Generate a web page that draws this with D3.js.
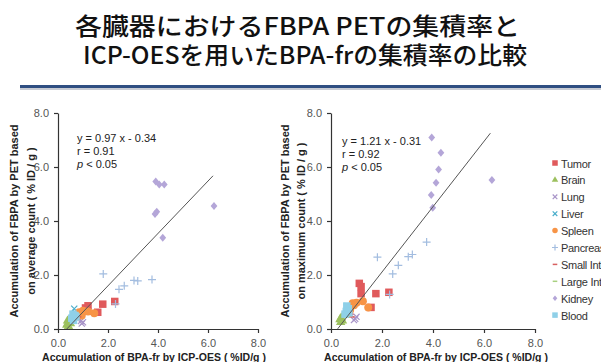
<!DOCTYPE html>
<html><head><meta charset="utf-8">
<script src="https://cdn.jsdelivr.net/npm/d3@7"></script>
<style>body{margin:0;background:#fff}svg{display:block}</style>
</head><body>
<script>
// ---------- data ----------
const titleLines = ["各臓器におけるFBPA PETの集積率と", "ICP-OESを用いたBPA-frの集積率の比較"];
const organs = ["Tumor","Brain","Lung","Liver","Spleen","Pancreas","Small Intestine","Large Intestine","Kidney","Blood"];
const xTicks = [0, 2, 4, 6, 8];
const yTicks = [0, 2, 4, 6, 8];

// Left panel: PET average count vs ICP-OES
const avgTumor    = [[1.10,0.78],[1.20,0.86],[1.18,0.66],[1.79,0.92],[2.27,1.02],[1.59,0.62]];
const avgBrain    = [[0.35,0.15],[0.40,0.22],[0.45,0.28],[0.38,0.30],[0.50,0.20],[0.42,0.10]];
const avgLung     = [[0.95,0.20],[1.00,0.25],[0.92,0.30]];
const avgLiver    = [[0.65,0.75],[0.70,0.60]];
const avgSpleen   = [[0.85,0.62],[1.00,0.68],[1.20,0.65],[1.45,0.58],[0.95,0.50],[0.78,0.52]];
const avgPancreas = [[1.81,2.04],[2.44,1.47],[2.65,1.60],[3.04,1.80],[3.19,1.78],[3.76,1.83],[2.30,0.93]];
const avgSmall    = [[0.80,0.45],[0.75,0.35]];
const avgLarge    = [[0.60,0.30],[0.70,0.42]];
const avgKidney   = [[3.91,5.46],[4.05,5.35],[4.25,5.35],[6.24,4.56],[3.95,4.34],[3.88,4.26],[4.19,3.38]];
const avgBlood    = [[0.60,0.55],[0.68,0.50],[0.55,0.40],[0.62,0.32],[0.72,0.45]];
const avgFit = {slope: 0.97, intercept: -0.34, x0: 0.35, x1: 6.2};
const avgStats = ["y = 0.97 x - 0.34", "r = 0.91", "< 0.05"];

// Right panel: PET maximum count vs ICP-OES
const maxTumor    = [[1.11,1.69],[1.18,1.57],[1.18,1.31],[1.76,1.31],[2.27,1.36],[1.57,0.80]];
const maxBrain    = [[0.35,0.35],[0.40,0.42],[0.45,0.30],[0.38,0.25]];
const maxLung     = [[0.95,0.38],[0.90,0.33],[1.00,0.45]];
const maxLiver    = [[0.65,0.85],[0.72,0.70]];
const maxSpleen   = [[0.85,0.95],[1.00,0.97],[1.25,1.03],[1.46,0.80],[0.90,0.88],[0.75,0.70]];
const maxPancreas = [[1.82,2.66],[2.42,2.04],[2.64,2.36],[3.03,2.68],[3.19,2.76],[3.75,3.22],[2.30,1.28]];
const maxSmall    = [[0.75,0.55],[0.80,0.45]];
const maxLarge    = [[0.60,0.45],[0.70,0.50]];
const maxKidney   = [[3.95,7.09],[4.31,6.53],[4.22,5.91],[4.12,5.42],[3.93,4.96],[3.99,4.49],[6.31,5.52]];
const maxBlood    = [[0.62,0.85],[0.68,0.75],[0.60,0.65],[0.55,0.55],[0.70,0.60]];
const maxFit = {slope: 1.21, intercept: -0.31, x0: 0.26, x1: 6.25};
const maxStats = ["y = 1.21 x - 0.31", "r = 0.92", "< 0.05"];

const avgSeries = [avgTumor,avgBrain,avgLung,avgLiver,avgSpleen,avgPancreas,avgSmall,avgLarge,avgKidney,avgBlood];
const maxSeries = [maxTumor,maxBrain,maxLung,maxLiver,maxSpleen,maxPancreas,maxSmall,maxLarge,maxKidney,maxBlood];

// ---------- styles ----------
const legendLabels = ["Tumor","Brain","Lung","Liver","Spleen","Pancreas","Small Intestine","Large Intestine","Kidney","Blood"];
const colors = ["#e05a5c","#9cc05e","#a894c8","#4aaecb","#f79446","#a3bde0","#d86060","#a8d080","#b4a6d8","#8fd0e8"];
const shapes = ["square","triangle","x","x","circle","plus","dash","dash","diamond","square"];

const W = 601, H = 362;
const svg = d3.select("body").append("svg").attr("width", W).attr("height", H);
const FONT = "'Liberation Sans', Arial, sans-serif";

// title (one text element, two lines)
const tl = [{x0:75, x1:520, y:35}, {x0:83, x1:527, y:64}];
const title = svg.append("text")
  .attr("font-family","'Noto Sans CJK JP', sans-serif").attr("font-weight",500)
  .attr("font-size",24).attr("fill","#111");
titleLines.forEach((t,i)=>{
  title.append("tspan").attr("x", tl[i].x0).attr("y", tl[i].y)
    .attr("textLength", tl[i].x1 - tl[i].x0).attr("lengthAdjust","spacingAndGlyphs")
    .text(t);
});
// separator
svg.append("rect").attr("x",20).attr("y",88).attr("width",W-20).attr("height",2).attr("fill","#c8ccd4");
svg.append("rect").attr("x",20).attr("y",85).attr("width",W-20).attr("height",3).attr("fill","#2f4f82");

function marker(g, shape, color, cx, cy, s) {
  if (shape === "square") {
    g.append("rect").attr("x",cx-s/2).attr("y",cy-s/2).attr("width",s).attr("height",s).attr("fill",color);
  } else if (shape === "circle") {
    g.append("circle").attr("cx",cx).attr("cy",cy).attr("r",s/2).attr("fill",color);
  } else if (shape === "triangle") {
    g.append("path").attr("d",d3.symbol(d3.symbolTriangle, s*s*0.6)()).attr("transform",`translate(${cx},${cy})`).attr("fill",color);
  } else if (shape === "diamond") {
    const h = s/2;
    g.append("path").attr("d",`M${cx},${cy-h}L${cx+h*0.85},${cy}L${cx},${cy+h}L${cx-h*0.85},${cy}Z`).attr("fill",color);
  } else if (shape === "x") {
    const h = s/2.6;
    g.append("path").attr("d",`M${cx-h},${cy-h}L${cx+h},${cy+h}M${cx-h},${cy+h}L${cx+h},${cy-h}`).attr("stroke",color).attr("stroke-width",1.2);
  } else if (shape === "plus") {
    const h = s/2;
    g.append("path").attr("d",`M${cx-h},${cy}L${cx+h},${cy}M${cx},${cy-h}L${cx},${cy+h}`).attr("stroke",color).attr("stroke-width",1.2);
  } else if (shape === "dash") {
    const h = s/2.4;
    g.append("path").attr("d",`M${cx-h},${cy}L${cx+h},${cy}`).attr("stroke",color).attr("stroke-width",1.5);
  }
}

function panel(cfg) {
  const x = d3.scaleLinear().domain([0,8]).range([cfg.x0, cfg.x1]);
  const y = d3.scaleLinear().domain([0,8]).range([329, 113]);
  const g = svg.append("g");

  // axes
  const ax = g.append("g").attr("transform","translate(0,329)")
    .call(d3.axisBottom(x).tickValues(xTicks).tickFormat(d3.format(".1f")).tickSize(4).tickSizeOuter(0));
  const ay = g.append("g").attr("transform",`translate(${cfg.x0},0)`)
    .call(d3.axisLeft(y).tickValues(yTicks).tickFormat(d3.format(".1f")).tickSize(4).tickSizeOuter(0));
  [ax, ay].forEach(a=>{
    a.select(".domain").attr("stroke","#333").attr("stroke-width",1.2);
    a.selectAll(".tick line").attr("stroke","#333").attr("stroke-width",1.2);
    a.selectAll("text").attr("font-family",FONT).attr("font-size",11).attr("fill","#555");
  });
  ax.selectAll("text").attr("dy","1.0em");
  ay.selectAll("text").attr("x",-9);

  // points
  cfg.series.forEach((pts,i)=>{
    const sz = shapes[i]==="circle" ? 8 : (shapes[i]==="square" ? 7.5 : 8);
    pts.forEach(p=> marker(g, shapes[i], colors[i], x(p[0]), y(p[1]), sz));
  });

  // regression line
  const f = cfg.fit;
  g.append("line").attr("x1",x(f.x0)).attr("y1",y(f.slope*f.x0+f.intercept))
    .attr("x2",x(f.x1)).attr("y2",y(f.slope*f.x1+f.intercept))
    .attr("stroke","#555").attr("stroke-width",1);

  // stats
  const st = g.append("g").attr("font-family",FONT).attr("font-size",11).attr("fill","#222");
  st.append("text").attr("x",cfg.sx).attr("y",cfg.sy).text(cfg.stats[0]);
  st.append("text").attr("x",cfg.sx).attr("y",cfg.sy+13).text(cfg.stats[1]);
  const pt = st.append("text").attr("x",cfg.sx).attr("y",cfg.sy+26);
  pt.append("tspan").attr("font-style","italic").text("p");
  pt.append("tspan").text(" " + cfg.stats[2]);

  // axis titles
  const yt = g.append("g").attr("font-family",FONT).attr("font-size",11).attr("font-weight","bold").attr("fill","#222").attr("text-anchor","middle");
  yt.append("text").attr("transform",`translate(${cfg.yt1},221) rotate(-90)`).text("Accumulation of FBPA by PET based");
  yt.append("text").attr("transform",`translate(${cfg.yt2},221) rotate(-90)`).text(cfg.ytitle2);
  g.append("text").attr("x",cfg.xtc).attr("y",361).attr("text-anchor","middle")
    .attr("font-family",FONT).attr("font-size",10.5).attr("font-weight","bold").attr("fill","#222")
    .text("Accumulation of BPA-fr by ICP-OES ( %ID/g )");
}

panel({x0:58, x1:258, series:avgSeries, fit:avgFit, stats:avgStats, sx:77, sy:142,
       yt1:18, yt2:35, ytitle2:"on average count ( % ID / g )", xtc:154});
panel({x0:331, x1:535, series:maxSeries, fit:maxFit, stats:maxStats, sx:342, sy:145,
       yt1:289, yt2:305, ytitle2:"on maximum count ( % ID / g )", xtc:436});

// legend
const lg = svg.append("g");
legendLabels.forEach((t,i)=>{
  const yy = 163 + i*16.9;
  marker(lg, shapes[i], colors[i], 555, yy, shapes[i]==="plus"||shapes[i]==="x"?6:5.5);
  lg.append("text").attr("x",561).attr("y",yy+4.5).attr("font-family",FONT).attr("font-size",11)
    .attr("letter-spacing",-0.3).attr("fill","#333").text(t);
});
</script>
</body></html>
